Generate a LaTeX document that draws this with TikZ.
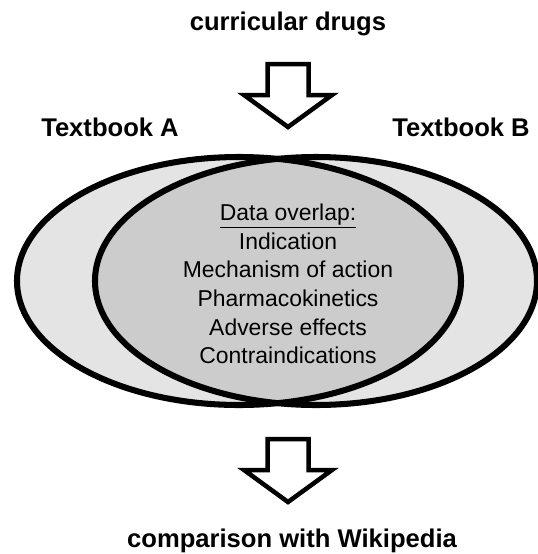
\documentclass[tikz,border=0pt]{standalone}
\usepackage{fontspec}
\setmainfont{Liberation Sans}
\usepackage{xcolor}
\usetikzlibrary{positioning}
\definecolor{bookfill}{gray}{0.895}
\definecolor{overlapfill}{gray}{0.8}

\begin{document}
\begin{tikzpicture}[x=0.025cm, y=-0.025cm, title/.style={font=\fontsize{18.2}{22}\selectfont\bfseries, inner sep=0, anchor=base}, item/.style={font=\fontsize{16.3}{20.3}\selectfont, align=center, inner sep=0}, book/.style={line width=4.3pt}, block arrow/.style={line width=3.2pt, fill=white, line join=miter}]
\useasboundingbox (0,0) rectangle (538,554);
\fill[bookfill] (239,281) ellipse [x radius=222, y radius=124];
\fill[bookfill] (316,281) ellipse [x radius=221, y radius=124];
\begin{scope}
\clip (239,281) ellipse [x radius=222, y radius=124];
\fill[overlapfill] (316,281) ellipse [x radius=221, y radius=124];
\end{scope}
\draw[book] (239,281) ellipse [x radius=222, y radius=124];
\draw[book] (316,281) ellipse [x radius=221, y radius=124];
\foreach \y in {64,439}
  \draw[block arrow, shift={(288,\y)}] (-20.5,0) -- (20.5,0) -- (20.5,31) -- (44,31) -- (0,63) -- (-44,31) -- (-20.5,31) -- cycle;
\node[title] (drugs) at (288,30) {curricular drugs};
\node[title] (bookA) at (110,136) {Textbook A};
\node[title] (bookB) at (461,136) {Textbook B};
\node[item] (overlap) at (288,284) {\underline{Data overlap:}\\Indication\\Mechanism of action\\Pharmacokinetics\\ Adverse effects\\Contraindications};
\node[title] (wiki) at (292,547) {comparison with Wikipedia};
\end{tikzpicture}
\end{document}
